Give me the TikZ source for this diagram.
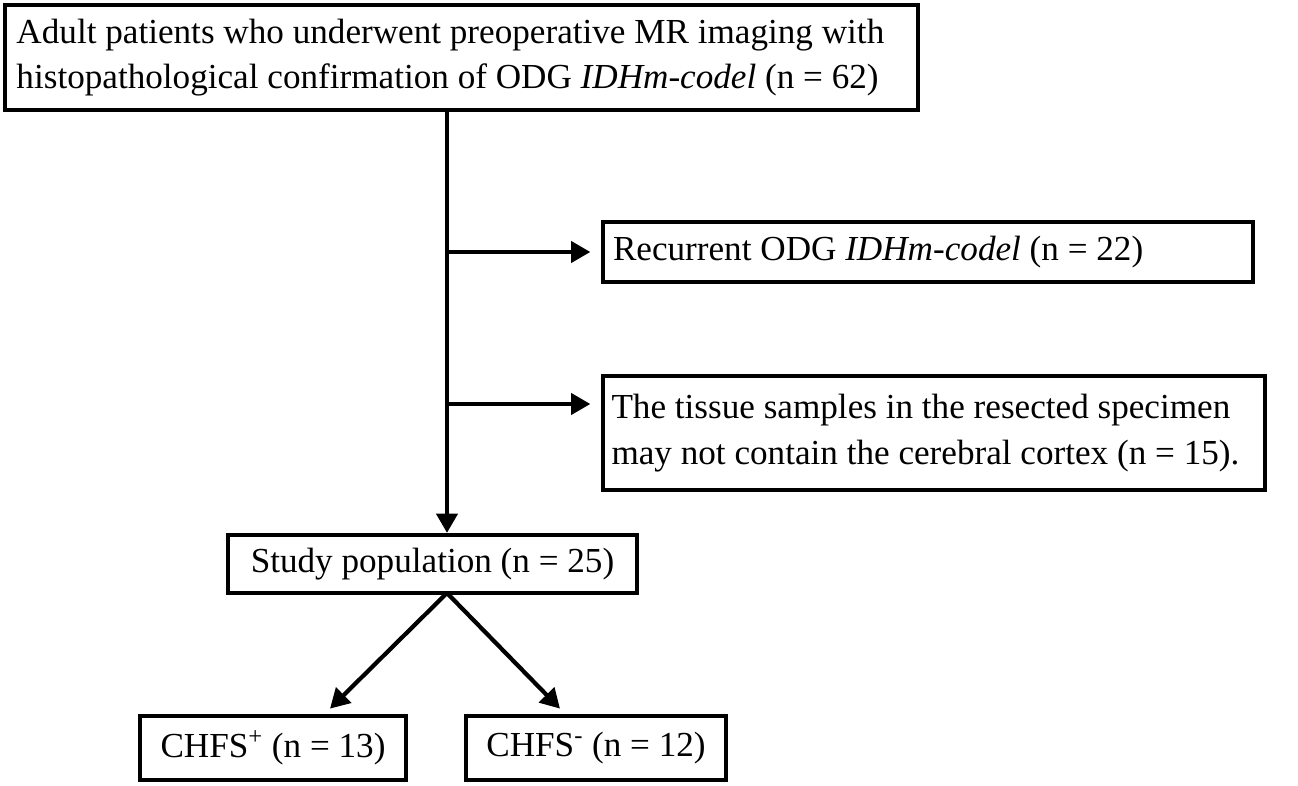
\documentclass[tikz,border=0pt]{standalone}
\usepackage{fontspec}
\setmainfont{Liberation Serif}
\usetikzlibrary{arrows.meta}
\usetikzlibrary{positioning}
\begin{document}
\begin{tikzpicture}[
	box/.style = {draw, line width = 2.4pt, inner sep = 0pt, font = \fontsize{20}{26}\selectfont},
	arrow/.style = {line width = 2.4pt, -{Triangle[length = 11pt, width = 12pt]}}
]
	\useasboundingbox (0,0) rectangle (25.96,15.7);

	% boxes
	\node [box, minimum width = 18.26cm, minimum height = 2.1cm, text width = 17.8cm, align = flush left] (top) at (9.23,14.55)
		{Adult patients who underwent preoperative MR imaging with\\histopathological confirmation of ODG \textit{IDHm-codel} (n = 62)};
	\node [box, minimum width = 13cm, minimum height = 1.2cm, text width = 12.6cm, align = flush left] (recurrent) at (18.56,10.66)
		{Recurrent ODG \textit{IDHm-codel} (n = 22)};
	\node [box, minimum width = 13.24cm, minimum height = 2.28cm, text width = 12.9cm, align = flush left] (tissue) at (18.68,7.04)
		{The tissue samples in the resected specimen\\may not contain the cerebral cortex (n = 15).};
	\node [box, minimum width = 8.18cm, minimum height = 1.16cm, align = center] (study) at (8.65,4.42)
		{Study population (n = 25)};
	\node [box, minimum width = 5.32cm, minimum height = 1.28cm, align = center] (chfsPos) at (5.46,0.74)
		{CHFS\textsuperscript{+} (n = 13)};
	\node [box, minimum width = 5.2cm, minimum height = 1.28cm, align = center] (chfsNeg) at (11.92,0.74)
		{CHFS\textsuperscript{-} (n = 12)};

	% trunk
	\coordinate (trunk) at (8.94,0);
	\coordinate (split) at (8.94,3.84);
	\draw [arrow] (top.south -| trunk) -- (study.north -| trunk);
	\draw [arrow] (recurrent.west -| trunk) -- ([xshift = -6pt]recurrent.west);
	\draw [arrow] (8.94,7.62) -- ([xshift = -6pt]tissue.west |- 0,7.62);

	% split to groups
	\draw [arrow] (split) -- ([xshift = 1.14cm, yshift = 3pt]chfsPos.north);
	\draw [arrow] (split) -- ([xshift = -0.72cm, yshift = 3pt]chfsNeg.north);
\end{tikzpicture}
\end{document}
